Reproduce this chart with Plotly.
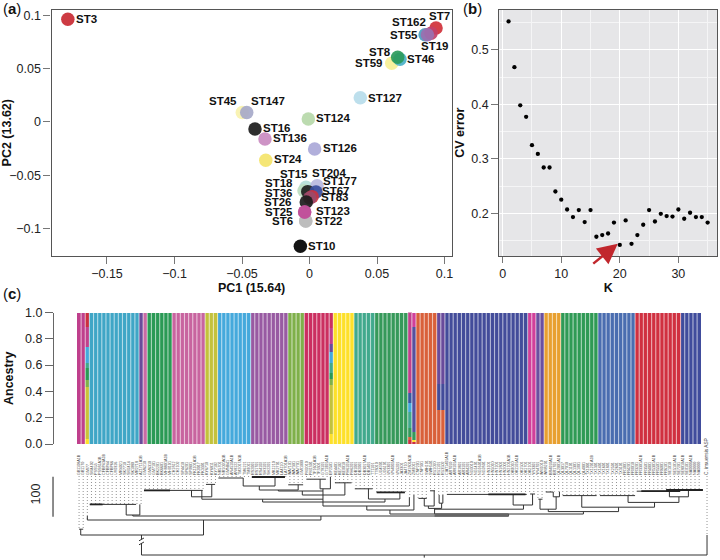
import plotly.graph_objects as go

# ---------- panel (a): PCA ----------
st_names = ["ST3","ST45","ST147","ST124","ST127","ST126","ST24","ST136","ST16","ST59","ST46","ST8",
            "ST55","ST7","ST162","ST19","ST15","ST18","ST204","ST36","ST177","ST67","ST83","ST26",
            "ST22","ST6","ST25","ST123","ST10"]
pc1 = [-0.179,-0.0498,-0.0465,-0.0009,0.0376,0.0038,-0.0324,-0.033,-0.0404,0.0609,0.067,0.0653,
       0.0856,0.0937,0.09,0.0873,-0.0026,-0.0041,0.0056,-0.0013,0.0048,0.0019,0.0002,-0.0024,
       -0.0028,-0.0028,-0.0036,-0.0036,-0.0068]
pc2 = [0.0965,0.0088,0.0088,0.0028,0.0228,-0.0254,-0.036,-0.016,-0.0066,0.0552,0.0589,0.0608,
       0.082,0.0883,0.0834,0.082,-0.0614,-0.0646,-0.0599,-0.0655,-0.0658,-0.0702,-0.0715,-0.0752,
       -0.093,-0.093,-0.0846,-0.0846,-0.1168]
st_colors = ["#c92a33","#f8f2ae","#a6a9c9","#b6d8a9","#b7dcea","#aaa8d8","#f4e46a","#c98ac0","#1c1c1c",
             "#f6ef96","#4ab0c8","#2a9a5a","#4aa0c0","#d0303a","#c2406a","#9a70b0","#b5ded8","#bcdcc0",
             "#b8b8e0","#1f1f1f","#3a4ea0","#cc3340","#9b4a6a","#1c1c1c","#bdbdbd","#bdbdbd","#c0509a",
             "#c0509a","#000000"]
label_dx = [19,-19,21,25,25,25,22,25,22,-23,21,-18,-21,3,-22,8,-12,-25,12,-29,24,24,25,-28,23,-23,-26,28,22]
label_dy = [0,-12,-12,-1,0,-1,-1,-1,-1,0,0,-5,0,-12,-11,11,-13,-8,-13,1,-11,-6,-1,0,0,0,0,-1,0]

# ---------- panel (b): CV error ----------
k_values = list(range(1, 36))
cv_error = [0.552,0.468,0.398,0.377,0.325,0.309,0.284,0.284,0.240,0.225,0.207,0.193,0.206,0.184,0.206,
            0.157,0.160,0.163,0.183,0.142,0.187,0.144,0.160,0.179,0.206,0.185,0.199,0.195,0.194,0.207,
            0.190,0.201,0.193,0.193,0.183]

# ---------- panel (c): ancestry ----------
pure_first = [0,3,15,16,17,23,31,34,42,51,55,62,67,72,82,89,109,111,113,117,126,135,146]
pure_last  = [1,14,15,16,22,30,33,41,50,54,60,66,71,79,86,108,110,112,116,125,134,145,150]
pure_color = ["#bf3f8c","#3fa6c6","#694b9b","#c86aa5","#2a9a55","#c8649f","#c3c23c","#45a9dc","#985aa2",
              "#7fb04a","#cb2f60","#fde02a","#41a98d","#36995a","#d9603a","#434c9a","#d0409a","#6a50a0",
              "#e8a030","#2f9a55","#4a6db0","#d03040","#404c9c"]
admix_samples = [2, 61, 80, 81, 87, 88]
admix_fractions = [[.04,.40,.05,.09,.04,.12,.15,.11],
                   [.083,.372,.045,.04,.08,.08,.065,.119,.116],
                   [.033,.025,.068,.059,.065,.065,.073,.644,.033],
                   [.025,.013,.058,.794,.11],
                   [.265,.195,.54],
                   [.265,.195,.54]]
admix_colors = [["#fde02a","#c9c23a","#7fb04a","#2a9a55","#41a98d","#45a9dc","#c0408c","#cb2f40"],
                ["#fde02a","#c3c23c","#7fb04a","#2a9a55","#41a98d","#45a9dc","#694b9b","#c0408c","#cb2f60"],
                ["#cb2f40","#d9603a","#36995a","#41a98d","#41a98d","#45a9dc","#3a5aa0","#c0408c","#cb2f40"],
                ["#cb2f40","#fde02a","#36995a","#56509e","#d0409a"],
                ["#d9603a","#434c9a","#694b9b"],
                ["#d9603a","#434c9a","#694b9b"]]
ancestry_ticks = [0.0,0.2,0.4,0.6,0.8,1.0]

sample_labels = """GB1108 GB1170 GMI77 SM4402 PSS53 PSS81 CFBP43 CFBP44 CFBP66 UY0316 MR4021 SK7710 SM2414 SK1080 MR2718
AZ1711 GM6210 GM6310 GM7101 BK2201 BK6601 MH8801 MH9101 CH1812 CH2102 SP4410 SP6201 SP9801 FK1101 FK9017 FK3301
KY6710 KY6811 KY7102 NR5701 NR1020 GMNB41 AN4510 AN8122 TM2017 TM6221 TM9011 RS2001 RS1701 RS4102 SH3101 SH2201
MK1210 MK2701 LA4110 LA7701 WA7101 WA7301 WA7701 GMI1000 PM2010 PM1301 TF1601 TF3301 GT8101 GT1901 EP2501
KE4401 KE7102 KE9010 PH6101 PH6201 DB1001 DB2001 DB3017 DB1401 TT1101 TT8010 UG4901 UG6101 VN3301 VN4002 VN5201
JA3301 JA4710 ZM1801 ZM9011 CNP201 CNP301 SWH101 SWH501 RU1020 RU1101 RU3502 CIAT1401 AR7010 AR8101 AR1801
AR3101 AR4201 NG9010 NG1401 NG1601 NG2801 HN3101 HN5010 HN7201 HN1801 HN2001 HN2101 OK9010 OK1101 OK1501
OK1701 OK2101 YN3301 YN4701 WM1010 WM8201 BR4010 BR1701 QL2001 QL3017 QL7010 QL1101 QL1301 QL1901 QL4001
TX1001 TX1201 TX1301 TX1401 TX1601 TX1801 TX2501 TX2601 TX3101 FR1001 FR4201 FR9010 FR3201 FR3301 FR3501
FR4001 FR5301 FR5501 FR6001 FR6101 SE1010 SE5101 SE7201 SE8010 SE9101""".split()
long_label_samples = [0,5,6,15,21,28,35,37,39,50,57,60,65,69,76,80,89,91,97,104,106,114,116,124,136,139,144,146,148]
sample_labels = (sample_labels + ["NA0000"] * 151)[:151]
for i in long_label_samples:
    sample_labels[i] = sample_labels[i] + "A1B"
outgroup_label = "C. insuensis ASP"
tick_labels = sample_labels + [f'<span style="font-size:4.8px">{outgroup_label}</span>']

# ---------- panel (c): tree ----------
tip_first  = [0,2,3,16,31,34,42,51,55,61,62,67,72,80,81,82,85,87,89,109,111,113,115,117,126,135,146,151]
tip_last   = [1,2,15,30,33,41,50,54,60,61,66,71,79,80,81,84,86,88,108,110,112,114,116,125,134,145,150,151]
tip_length = [133,108,71,36,21,5,2.5,22,8,2,17,32,41,53,47.5,56,37,47.5,46,45,58,40,39,49,49,38,35,147.5]

h_branches = [(2.6,13.8,71),(11.4,14.7,97.5),(13.0,103.9,100),(2,58.5,110),(0,1,133),(0.4,30.1,147.5),
              (15.1,151.9,197.5),(15.7,29.9,36),(27.2,32.1,52),(30.7,32.9,21),(29.7,59,58),(33.7,39.7,5),
              (39.7,47.4,25),(41.8,49.8,2.5),(43.6,53,35),(50.6,54.2,22),(48.2,59,37.5),(58.3,60.8,32),
              (55,59.7,8),(54,64.3,47.5),(61.9,65.9,17),(44.4,74,65),(70,77.6,57.5),(66.7,71,32),(72,78.8,41),
              (59,79.9,75),(69.6,81,85),(75.2,122,95),(86,107.5,83),(105,109.7,72.5),(89,108.3,46),
              (109.1,110.3,45),(82.1,84.1,56),(83.5,85.9,75),(84.9,86.1,37),(84.5,87.7,81),(87.1,88,68),
              (113.5,130.5,89),(111.5,115.4,83),(111.1,112.1,58),(114.7,116.2,52),(112.9,114.7,40),
              (121.6,139.2,78),(117,125.2,49),(132.8,145.1,66),(126,134.5,49),(142.8,147.4,52),
              (134.9,145.4,38),(146.2,150.9,35)]
h_thick = [(2.6,5.7,71),(15.7,22,36),(41.8,49.8,2.5),(72,78.8,41),(136,145.4,38),(142,150.9,35),(99,108,46)]
h_block = [(86,103.9,97.5)]
v_branches = [(11.4,71,97.5),(14.7,71,97.5),(13.0,97.5,100),(58.5,100,110),(0.4,133,147.5),(30.1,110,147.5),
              (15.1,147.5,158),(15.1,168,197.5),(151.9,147.5,197.5),(83.5,197.5,204),(2,100,110),
              (27.2,36,52),(32.1,21,52),(29.7,36,58),(39.7,5,25),(47.4,2.5,25),(43.6,25,35),(53,22,35),
              (48.2,35,37.5),(58.3,8,32),(60.8,2,32),(59,32,75),(54,37.5,47.5),(64.3,17,47.5),(44.4,58,65),
              (74,57.5,65),(70,32,57.5),(77.6,41,57.5),(79.9,53,75),(69.6,75,85),(81,47.5,85),(75.2,85,95),
              (86,81,95),(107.5,72.5,83),(105,46,72.5),(109.7,45,72.5),(83.5,56,75),(85.9,37,75),(84.5,75,81),
              (87.7,68,81),(87.1,47.5,68),(88,47.5,68),(103.9,95,100),(122,89,95),(113.5,83,89),(111.5,58,83),
              (115.4,52,83),(114.7,40,52),(116.2,39,52),(130.5,78,89),(121.6,49,78),(139.2,66,78),(132.8,49,66),
              (145.1,52,66),(142.8,38,52),(147.4,35,52)]
break_marks = [(14.5,162,15.7,155),(14.5,172,15.7,165)]
scale_bar = (-6.3, 1.7, 101.7)
scale_label = "100"

W, H = 720, 560
def dx(a, b): return [a / W, b / W]
def dy(top, bottom): return [1 - bottom / H, 1 - top / H]

fig = go.Figure()

# (a)
for n, x, y, c in zip(st_names, pc1, pc2, st_colors):
    fig.add_trace(go.Scatter(x=[x], y=[y], mode="markers", name=n, xaxis="x", yaxis="y",
                             marker=dict(size=13.5, color=c, opacity=0.92, line=dict(width=0)), showlegend=False))

# (b)
fig.add_trace(go.Scatter(x=k_values, y=cv_error, mode="markers", xaxis="x2", yaxis="y2", showlegend=False,
                         marker=dict(size=4.3, color="#000000")))

# (c) ancestry bars
for a, b, c in zip(pure_first, pure_last, pure_color):
    xs = list(range(a, b + 1))
    fig.add_trace(go.Bar(x=xs, y=[1] * len(xs), marker=dict(color=c, line=dict(width=0)), width=1,
                         xaxis="x3", yaxis="y3", showlegend=False))
for s, fr, cols in zip(admix_samples, admix_fractions, admix_colors):
    for f, c in zip(fr, cols):
        fig.add_trace(go.Bar(x=[s], y=[f], marker=dict(color=c, line=dict(width=0)), width=1,
                             xaxis="x3", yaxis="y3", showlegend=False))
sep_x, sep_y = [], []
for i in range(150):
    sep_x += [i + 0.5, i + 0.5, None]; sep_y += [0, 1, None]
fig.add_trace(go.Scatter(x=sep_x, y=sep_y, mode="lines", xaxis="x3", yaxis="y3", showlegend=False,
                         line=dict(color="rgba(255,255,255,0.6)", width=1.1)))

# (c) tree
def hv_lines(hs, vs):
    X, Y = [], []
    for a, b, l in hs:
        X += [a, b, None]; Y += [l, l, None]
    for x, l1, l2 in vs:
        X += [x, x, None]; Y += [l1, l2, None]
    return X, Y

tip_x, tip_y = [], []
for a, b, l in zip(tip_first, tip_last, tip_length):
    for i in range(a, b + 1):
        pos = 151.9 if i == 151 else i
        tip_x += [pos, pos, None]; tip_y += [0, l, None]
fig.add_trace(go.Scatter(x=tip_x, y=tip_y, mode="lines", xaxis="x4", yaxis="y4", showlegend=False,
                         line=dict(color="#777777", width=0.8, dash="1px,2px")))
X, Y = hv_lines(h_branches, v_branches)
for x1, y1, x2, y2 in break_marks:
    X += [x1, x2, None]; Y += [y1, y2, None]
fig.add_trace(go.Scatter(x=X, y=Y, mode="lines", xaxis="x4", yaxis="y4", showlegend=False,
                         line=dict(color="#333333", width=1)))
X, Y = hv_lines(h_thick, [])
fig.add_trace(go.Scatter(x=X, y=Y, mode="lines", xaxis="x4", yaxis="y4", showlegend=False,
                         line=dict(color="#222222", width=1.8)))
X, Y = hv_lines(h_block, [])
fig.add_trace(go.Scatter(x=X, y=Y, mode="lines", xaxis="x4", yaxis="y4", showlegend=False,
                         line=dict(color="#666666", width=3.6)))
fig.add_trace(go.Scatter(x=[scale_bar[0]] * 2, y=list(scale_bar[1:]), mode="lines", xaxis="x4", yaxis="y4",
                         showlegend=False, line=dict(color="#666666", width=1.5)))

FONT = "Liberation Sans"
TICK = dict(family=FONT, size=12.5, color="#222222")
TITLE = dict(family=FONT, size=12.5, color="#111111")
ann = []
for n, x, y, ox, oy in zip(st_names, pc1, pc2, label_dx, label_dy):
    ann.append(dict(x=x, y=y, xref="x", yref="y", text=f"<b>{n}</b>", showarrow=False, xshift=ox, yshift=-oy,
                    font=dict(family=FONT, size=11.5, color="#111111")))
ann.append(dict(x=19.65, y=0.144, xref="x2", yref="y2", ax=-26, ay=21, text="", showarrow=True, arrowhead=2,
                arrowsize=1.6, arrowwidth=2.5, arrowcolor="#c1272d", standoff=0))
ann.append(dict(x=-10.3, y=45, xref="x4", yref="y4", text=scale_label, textangle=-90, showarrow=False,
                font=dict(family=FONT, size=12.5, color="#222222")))
for txt, px, py in [("(<b>a</b>)", 12, 9), ("(<b>b</b>)", 472, 9), ("(<b>c</b>)", 12, 293)]:
    ann.append(dict(x=px / W, y=1 - py / H, xref="paper", yref="paper", text=txt, showarrow=False,
                    xanchor="center", yanchor="middle", font=dict(family=FONT, size=15, color="#111111")))

LINE = "#555555"
TICKC = "#777777"
grid = "#ffffff"
tree_left, tree_right = 30, 710
to_idx = lambda px: (px - 77) / 4.134 - 0.5

fig.update_layout(
    template="none",
    width=W, height=H, margin=dict(l=0, r=0, t=0, b=0), paper_bgcolor="white", plot_bgcolor="white",
    barmode="stack", bargap=0, showlegend=False, annotations=ann,
    font=dict(family=FONT),
    xaxis=dict(domain=dx(51.5, 451.7), range=[-0.1911, 0.1053], anchor="y", showgrid=False, zeroline=False,
               showline=True, mirror=True, linecolor=LINE, linewidth=1.2, ticks="outside", ticklen=7, tickwidth=1.3,
               tickcolor=TICKC, tickvals=[-0.15,-0.1,-0.05,0,0.05,0.1], ticklabelstandoff=-1,
               ticktext=["−0.15","−0.1","−0.05","0","0.05","0.1"], tickfont=TICK,
               title=dict(text="<b>PC1 (15.64)</b>", font=TITLE, standoff=0)),
    yaxis=dict(domain=dy(9.5, 256), range=[-0.126, 0.1057], anchor="x", showgrid=False, zeroline=False,
               showline=True, mirror=True, linecolor=LINE, linewidth=1.2, ticks="outside", ticklen=7, tickwidth=1.3,
               tickcolor=TICKC, tickvals=[-0.1,-0.05,0,0.05,0.1], ticktext=["−0.1","−0.05","0","0.05","0.1"],
               tickfont=TICK, title=dict(text="<b>PC2 (13.62)</b>", font=TITLE, standoff=3)),
    xaxis2=dict(domain=dx(499.3, 717), range=[-0.58, 36.6], anchor="y2", zeroline=False, showline=True, mirror=True,
                linecolor=LINE, linewidth=1.2, ticks="outside", ticklen=6, tickwidth=1.3, tickcolor=TICKC,
                tickvals=[0,10,20,30], tickfont=TICK, showgrid=True, gridcolor=grid, gridwidth=1.4,
                minor=dict(dtick=5, tick0=0, showgrid=True, gridcolor="#f5f5f6", gridwidth=0.7, ticks=""),
                title=dict(text="<b>K</b>", font=TITLE, standoff=3)),
    yaxis2=dict(domain=dy(9.5, 256), range=[0.1217, 0.5738], anchor="x2", zeroline=False, showline=True, mirror=True,
                linecolor=LINE, linewidth=1.2, ticks="outside", ticklen=7, tickwidth=1.3, tickcolor=TICKC,
                tickvals=[0.2,0.3,0.4,0.5], tickformat=".1f", tickfont=TICK, showgrid=True, gridcolor=grid, gridwidth=1.4,
                minor=dict(dtick=0.1, tick0=0.15, showgrid=True, gridcolor="#f5f5f6", gridwidth=0.7, ticks=""),
                title=dict(text="<b>CV error</b>", font=TITLE, standoff=3)),
    xaxis3=dict(domain=dx(54, 701.3), range=[to_idx(54), to_idx(701.3)], anchor="y3", visible=False),
    yaxis3=dict(domain=dy(312.5, 444), range=[0, 1], anchor="x3", showgrid=False, zeroline=False, showline=True,
                linecolor="#666666", linewidth=1.2, ticks="outside", ticklen=8, tickwidth=1.2, tickcolor="#666666",
                tickvals=ancestry_ticks, tickformat=".1f", tickfont=TICK,
                title=dict(text="<b>Ancestry</b>", font=TITLE, standoff=8)),
    xaxis4=dict(domain=dx(tree_left, tree_right), range=[to_idx(tree_left), to_idx(tree_right)], anchor="y4", side="top",
                showgrid=False, zeroline=False, showline=False, ticks="", tickangle=-90, tickmode="array",
                tickvals=list(range(151)) + [151.9], ticktext=tick_labels,
                tickfont=dict(family=FONT, size=3.7, color="#444444")),
    yaxis4=dict(domain=dy(476, 558), range=[205, 0], anchor="x4", visible=False),
)
plot_bg = "#e6e6e8"
fig.add_shape(type="rect", xref="x2 domain", yref="y2 domain", x0=0, x1=1, y0=0, y1=1, fillcolor=plot_bg,
              line=dict(width=0), layer="below")
fig.write_html("out.html", post_script="document.body.style.margin='0';",
               config=dict(displayModeBar=False))
